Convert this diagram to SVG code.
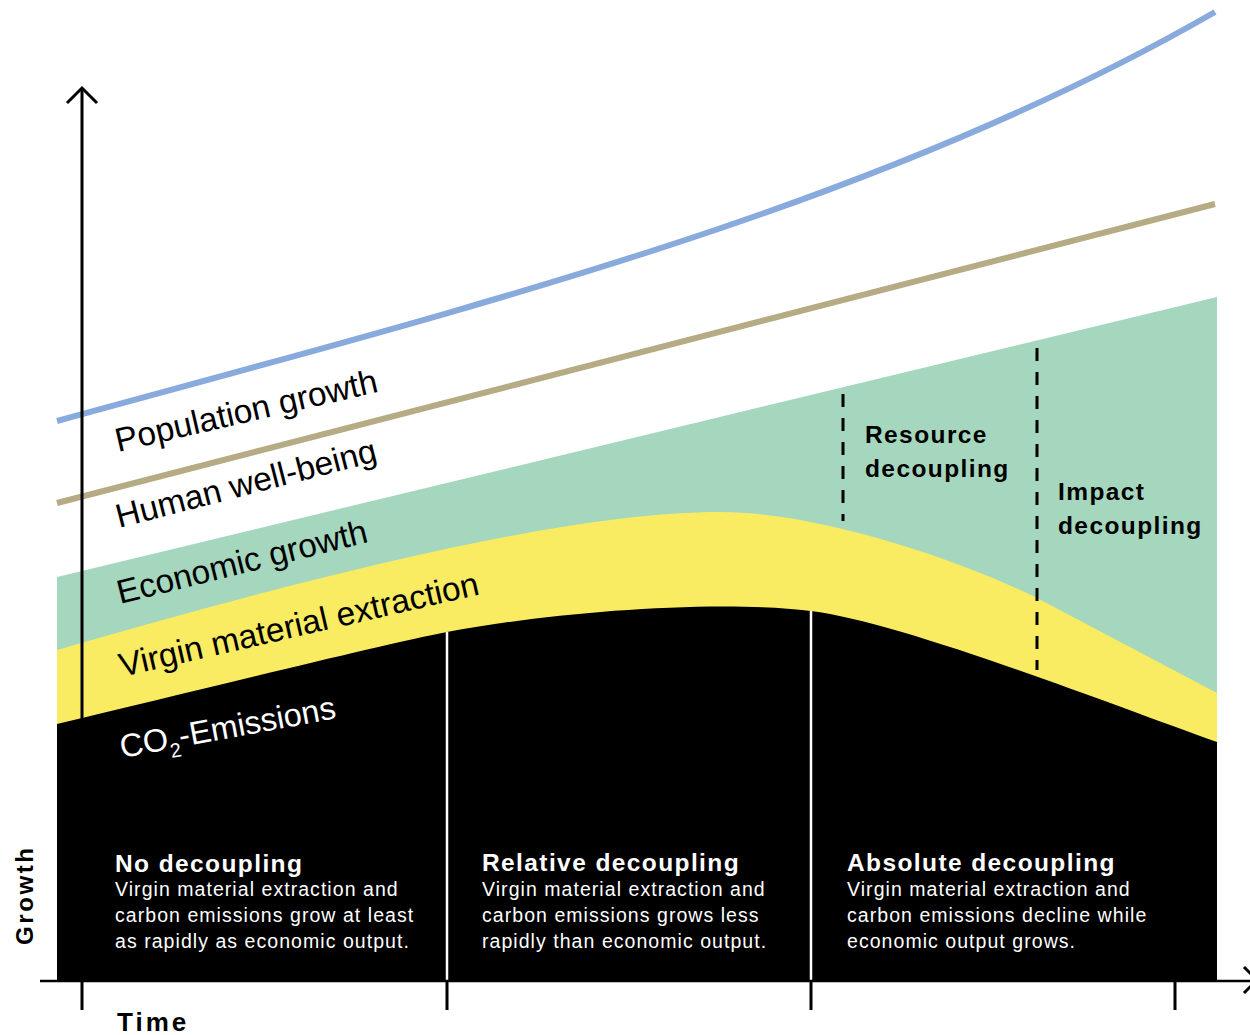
<svg xmlns="http://www.w3.org/2000/svg" width="1250" height="1035" viewBox="0 0 1250 1035">
<style>
.lbl{font-family:"Liberation Sans",Arial,sans-serif;font-size:33.5px;fill:#000}
.lblw{font-family:"Liberation Sans",Arial,sans-serif;font-size:32.5px;fill:#fff}
.hd{font-family:"Liberation Sans",Arial,sans-serif;font-size:24.5px;font-weight:bold;letter-spacing:1.4px}
.bd{font-family:"Liberation Sans",Arial,sans-serif;font-size:19.5px;letter-spacing:1.05px;fill:#fff}
.ax{font-family:"Liberation Sans",Arial,sans-serif;font-weight:bold;fill:#000}
.dash{stroke:#000;stroke-width:3;stroke-dasharray:13 11;fill:none}
.axis{stroke:#000;stroke-width:3;fill:none}
.div{stroke:#fff;stroke-width:2.5}
</style>
<rect width="1250" height="1035" fill="#fff"/>
<g id="economic-area"><polygon points="57,577 1217,297 1217,980 57,980" fill="#a5d7bf"/></g>
<g id="material-area"><path d="M57,650 C300,580 560,512 720,512 C820,512 960,560 1037,598 L1217,693 L1217,980 L57,980 Z" fill="#f9ec62"/></g>
<g id="emissions-area"><path d="M57,724 C200,690 380,645 447,632 C547,613 711,599 811,611 C900,622 1100,700 1217,742 L1217,980 L57,980 Z" fill="#000"/></g>
<g id="wellbeing-line"><line x1="57" y1="503" x2="1215" y2="204" stroke="#b5ab85" stroke-width="6"/></g>
<g id="population-line"><path d="M57,421 C480,305 880,205 1215,12" stroke="#88aadc" stroke-width="6" fill="none"/></g>
<g id="dividers">
<line class="div" x1="447" y1="632" x2="447" y2="981"/>
<line class="div" x1="811" y1="611" x2="811" y2="981"/>
</g>
<g id="connectors">
<line class="dash" x1="843" y1="394" x2="843" y2="521"/>
<line class="dash" x1="1037" y1="348" x2="1037" y2="670"/>
<line class="axis" x1="82" y1="88" x2="82" y2="1010"/>
<polyline class="axis" points="67,103 82,88 97,103"/>
<line x1="40" y1="981" x2="1250" y2="981" stroke="#000" stroke-width="2.5"/>
<polyline class="axis" points="1244,967 1257,980 1244,993"/>
<line class="axis" x1="447" y1="981" x2="447" y2="1010"/>
<line class="axis" x1="811" y1="981" x2="811" y2="1010"/>
<line class="axis" x1="1175" y1="981" x2="1175" y2="1010"/>
</g>
<g id="labels">
<text class="lbl" transform="translate(118,452) rotate(-13)">Population growth</text>
<text class="lbl" transform="translate(119,528) rotate(-14.5)">Human well-being</text>
<text class="lbl" transform="translate(120,604) rotate(-14)">Economic growth</text>
<text class="lbl" transform="translate(122,677) rotate(-13)">Virgin material extraction</text>
<text class="lblw" transform="translate(122,758) rotate(-10.5)">CO<tspan dy="9" font-size="20">2</tspan><tspan dy="-9">-Emissions</tspan></text>
</g>
<g id="resource-decoupling"><text class="hd" fill="#000"><tspan x="865" y="443">Resource</tspan><tspan x="865" y="477">decoupling</tspan></text></g>
<g id="impact-decoupling"><text class="hd" fill="#000"><tspan x="1058" y="500">Impact</tspan><tspan x="1058" y="534">decoupling</tspan></text></g>
<g id="no-decoupling">
<text class="hd" fill="#fff" x="115" y="872">No decoupling</text>
<text class="bd"><tspan x="115" y="896">Virgin material extraction and</tspan><tspan x="115" y="922">carbon emissions grow at least</tspan><tspan x="115" y="948">as rapidly as economic output.</tspan></text>
</g>
<g id="relative-decoupling">
<text class="hd" fill="#fff" x="482" y="871">Relative decoupling</text>
<text class="bd"><tspan x="482" y="896">Virgin material extraction and</tspan><tspan x="482" y="922">carbon emissions grows less</tspan><tspan x="482" y="948">rapidly than economic output.</tspan></text>
</g>
<g id="absolute-decoupling">
<text class="hd" fill="#fff" x="847" y="871">Absolute decoupling</text>
<text class="bd"><tspan x="847" y="896">Virgin material extraction and</tspan><tspan x="847" y="922">carbon emissions decline while</tspan><tspan x="847" y="948">economic output grows.</tspan></text>
</g>
<g id="axis-labels">
<text class="ax" font-size="24" letter-spacing="2.6" transform="translate(33,945) rotate(-90)">Growth</text>
<text class="ax" font-size="26" letter-spacing="3" x="117" y="1031">Time</text>
</g>
</svg>
